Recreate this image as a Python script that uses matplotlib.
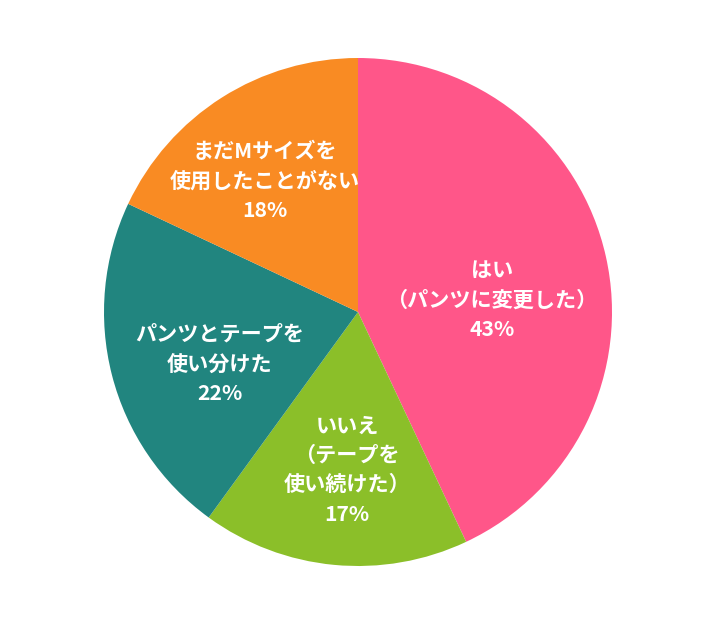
import matplotlib
matplotlib.use("Agg")
import matplotlib.pyplot as plt

plt.rcParams['font.family'] = ['Noto Sans CJK JP', 'DejaVu Sans']

# データ（時計回り、12時の位置から）
labels = ['はい\n（パンツに変更した）', 'いいえ\n（テープを\n使い続けた）',
          'パンツとテープを\n使い分けた', 'まだMサイズを\n使用したことがない']
values = [43, 17, 22, 18]
colors = ['#ff5689', '#8bbf29', '#21857f', '#f98b23']

# ラベルの中心位置（ピクセル）
label_px = [(492, 300), (347, 470), (220, 364), (265, 181)]

fig = plt.figure(figsize=(7.1, 6.3), dpi=100)
ax = fig.add_axes([104 / 710, 64 / 630, 508 / 710, 508 / 630])

ax.pie(values, colors=colors, startangle=90, counterclock=False,
       radius=1, wedgeprops=dict(linewidth=0))
ax.set_xlim(-1, 1)
ax.set_ylim(-1, 1)
ax.set_aspect('equal')
ax.axis('off')

cx, cy, r = 358, 312, 254
for lab, v, (px, py) in zip(labels, values, label_px):
    ax.text((px - cx) / r, (cy - py) / r, f"{lab}\n{v}%",
            ha='center', va='center', multialignment='center',
            color='white', fontsize=15.2, fontweight='bold', linespacing=1.5)

fig.savefig('out.png', dpi=100)
